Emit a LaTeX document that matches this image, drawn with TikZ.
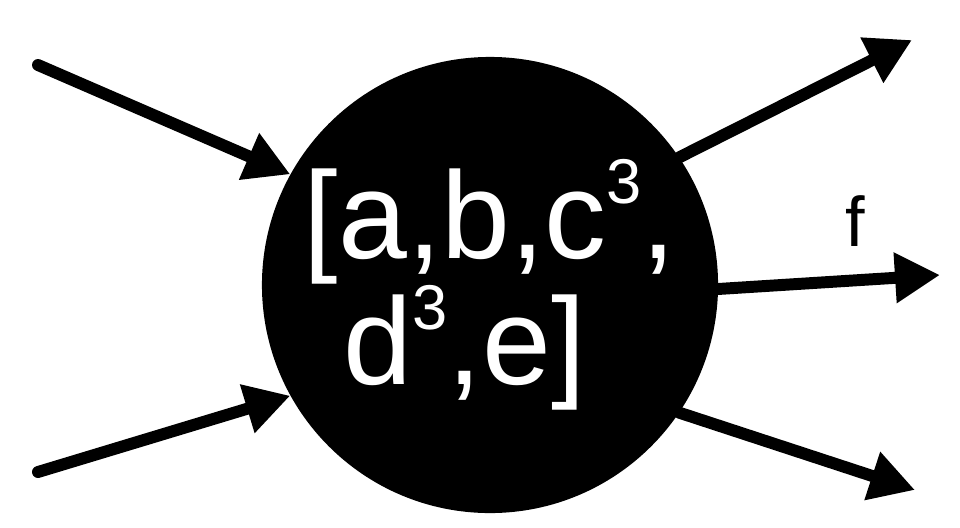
\documentclass[tikz,border=0pt]{standalone}
\usepackage{fontspec}
\setmainfont{Liberation Sans}
\usetikzlibrary{arrows.meta}
\newcommand{\cube}{\raisebox{39pt}{\fontsize{45}{45}\selectfont 3}}

\begin{document}
\begin{tikzpicture}[x=0.025cm, y=-0.025cm,
    flow/.style={line width=8.5pt, line cap=round, -{Triangle[length=32pt, width=34pt]}},
    hub/.style={circle, fill=black, minimum size=11.4cm, inner sep=0pt, text=white, align=center,
        font=\fontsize{88}{86}\selectfont}]
    \useasboundingbox (0,0) rectangle (960,527);
    \node[hub] (n) at (490,285) {[a,b,c\cube,\\d\cube,e]\hspace*{36pt}};
    \coordinate (in1) at (38,65);
    \coordinate (in2) at (38,472);
    \coordinate (out1) at (912,40);
    \coordinate (out2) at (940,275);
    \coordinate (out3) at (915,490);
    \node[font=\fontsize{50}{56}\selectfont] (lf) at (855,221) {f};

    \draw[flow] (in1) -- (n.151.9);
    \draw[flow] (in2) -- (n.209.5);
    \draw[flow] (n.34.4) -- (out1);
    \draw[flow] (n.-1.7) -- (out2);
    \draw[flow] (n.-34.4) -- (out3);
\end{tikzpicture}
\end{document}
